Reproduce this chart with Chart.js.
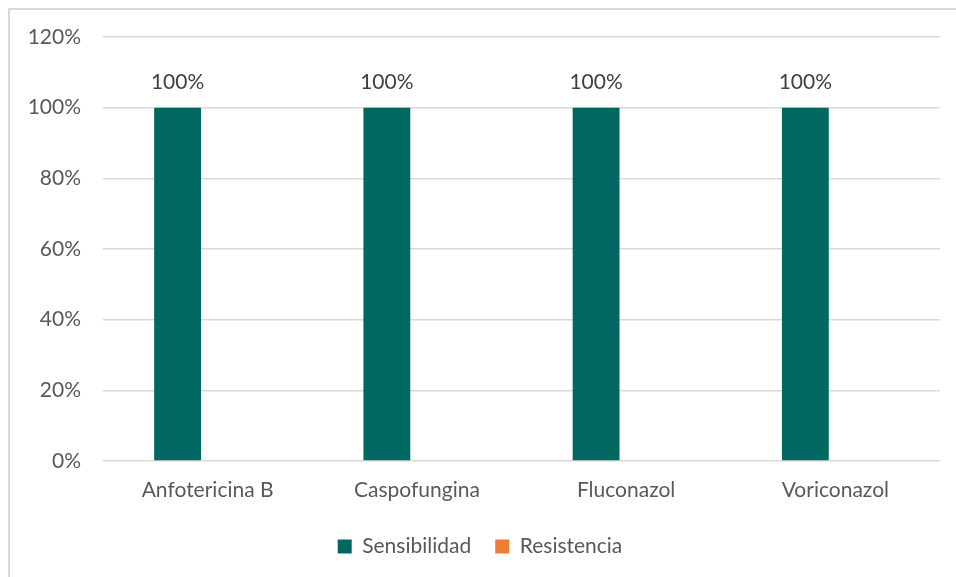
<!DOCTYPE html>
<html>
<head>
<meta charset="utf-8">
<script src="https://cdn.jsdelivr.net/npm/chart.js@4"></script>
<style>
  html, body { margin: 0; padding: 0; background: #fff; overflow: hidden; }
  #wrap { position: relative; width: 956px; height: 577px; }
  #marco {
    position: absolute; left: 8px; top: 8px; width: 1000px; height: 1000px;
    border-left: 2px solid #d9d9d9; border-top: 2px solid #d9d9d9;
    pointer-events: none;
  }
  canvas { position: absolute; left: 0; top: 0; }
</style>
</head>
<body>
<div id="wrap">
  <div id="marco"></div>
  <canvas id="grafico" width="956" height="577"></canvas>
</div>
<script>
// Datos del gráfico
const antifungicos = ['Anfotericina B', 'Caspofungina', 'Fluconazol', 'Voriconazol']
const sensibilidad = [100, 100, 100, 100]
const resistencia = [0, 0, 0, 0]
const ticksY = [0, 20, 40, 60, 80, 100, 120]

const fuente = 'Lato, "Open Sans", sans-serif'
const tamFuente = 21

// Etiquetas de valor encima de las barras de sensibilidad
const etiquetasValor = {
    id: 'etiquetasValor',
    afterDatasetsDraw(chart) {
        const ctx = chart.ctx
        const meta = chart.getDatasetMeta(0)
        ctx.save()
        ctx.font = tamFuente + 'px ' + fuente
        ctx.fillStyle = '#404040'
        ctx.textAlign = 'center'
        ctx.textBaseline = 'alphabetic'
        meta.data.forEach((bar, i) => {
            ctx.fillText(sensibilidad[i] + '%', bar.x, bar.y - 19)
        })
        ctx.restore()
    }
}

new Chart(document.getElementById('grafico'), {
    type: 'bar',
    data: {
        labels: antifungicos,
        datasets: [
            {
                label: 'Sensibilidad',
                data: sensibilidad,
                backgroundColor: '#006861',
                categoryPercentage: 0.574,
                barPercentage: 0.78
            },
            {
                label: 'Resistencia',
                data: resistencia,
                backgroundColor: '#ed7d31',
                categoryPercentage: 0.574,
                barPercentage: 0.78
            }
        ]
    },
    options: {
        responsive: false,
        animation: false,
        layout: { padding: { left: 20, right: 16, top: 37, bottom: 10 } },
        plugins: {
            legend: {
                position: 'bottom',
                labels: {
                    font: { family: fuente, size: tamFuente },
                    color: '#595959',
                    boxWidth: 14,
                    boxHeight: 14,
                    padding: 24
                }
            },
            tooltip: { enabled: false }
        },
        scales: {
            x: {
                grid: { display: false },
                border: { display: false },
                ticks: {
                    font: { family: fuente, size: tamFuente },
                    color: '#595959',
                    padding: 9
                },
                afterFit(scale) { scale.height = 51 }
            },
            y: {
                min: 0,
                max: 120,
                afterBuildTicks(scale) {
                    scale.ticks = ticksY.map(v => ({ value: v }))
                },
                grid: { color: '#d9d9d9', lineWidth: 1.5, drawTicks: false },
                border: { display: false },
                ticks: {
                    font: { family: fuente, size: tamFuente },
                    color: '#595959',
                    padding: 22,
                    callback: v => v + '%'
                },
                afterFit(scale) { scale.width = 83 }
            }
        }
    },
    plugins: [etiquetasValor]
})
</script>
</body>
</html>
